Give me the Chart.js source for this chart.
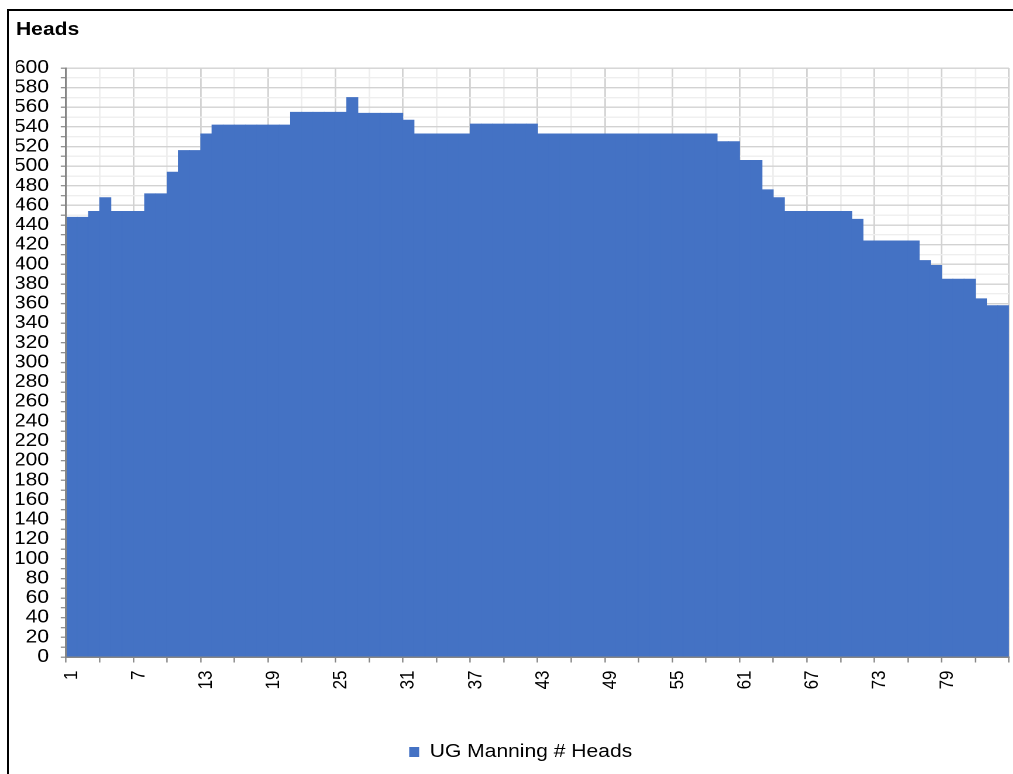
<!DOCTYPE html>
<html>
<head>
<meta charset="utf-8">
<title>UG Manning # Heads</title>
<script src="https://cdn.jsdelivr.net/npm/chart.js@4.4.1/dist/chart.umd.min.js"></script>
<style>
  html, body { margin: 0; padding: 0; background: #fff; overflow: hidden; }
  body { width: 1013px; height: 774px; position: relative; }
  /* outer frame of the chart object */
  #frame {
    position: absolute; left: 7px; top: 9px; width: 1100px; height: 800px;
    border-left: 2px solid #000; border-top: 2px solid #000; box-sizing: border-box;
  }
  /* the chart is laid out narrower and widened horizontally */
  #wrap {
    position: absolute; left: 0; top: 0; width: 866px; height: 774px;
    transform: scaleX(1.17); transform-origin: 0 0;
  }
</style>
</head>
<body>
<div id="frame"></div>
<div id="wrap"><canvas id="chart"></canvas></div>
<script>
// Period numbers along the x axis
const categories = [
  '1','2','3','4','5','6','7','8','9','10','11','12','13','14','15','16','17','18','19','20','21',
  '22','23','24','25','26','27','28','29','30','31','32','33','34','35','36','37','38','39','40','41','42',
  '43','44','45','46','47','48','49','50','51','52','53','54','55','56','57','58','59','60','61','62','63',
  '64','65','66','67','68','69','70','71','72','73','74','75','76','77','78','79','80','81','82','83','84'
];

// Underground manning, number of heads per period
const headcount = [
  448, 448, 454, 468, 454, 454, 454, 472, 472, 494, 516, 516, 533, 542,
  542, 542, 542, 542, 542, 542, 555, 555, 555, 555, 555, 570, 554, 554,
  554, 554, 547, 533, 533, 533, 533, 533, 543, 543, 543, 543, 543, 543,
  533, 533, 533, 533, 533, 533, 533, 533, 533, 533, 533, 533, 533, 533,
  533, 533, 525, 525, 506, 506, 476, 468, 454, 454, 454, 454, 454, 454,
  446, 424, 424, 424, 424, 424, 404, 399, 385, 385, 385, 365, 358, 358
];

const seriesName = 'UG Manning # Heads';
const chartTitle = 'Heads';

// Value axis range and label interval
const yMin = 0;
const yMax = 600;
const yMinorStep = 10;
const yLabelStep = 20;

// Category label / tick intervals
const xLabelEvery = 6;
const xTickEvery = 3;

const FONT = "'Liberation Sans', Arial, Helvetica, sans-serif";
const BLUE = '#4472C4';
const GRID_MAJOR = '#D2D2D2';
const GRID_MINOR = '#EEEEEE';
const AXIS = '#868686';

// nudges the centred legend to the right a little
const legendShift = {
  id: 'legendShift',
  afterLayout(chart) {
    if (chart.legend) {
      chart.legend.left += 7;
      chart.legend.right += 7;
    }
  }
};

new Chart(document.getElementById('chart'), {
  type: 'bar',
  data: {
    labels: categories,
    datasets: [{
      label: seriesName,
      data: headcount,
      backgroundColor: BLUE,
      borderWidth: 0,
      categoryPercentage: 1.0,
      barPercentage: 1.0
    }]
  },
  plugins: [legendShift],
  options: {
    responsive: true,
    maintainAspectRatio: false,
    devicePixelRatio: 2,
    animation: false,
    layout: { padding: { left: 13.68, right: 3.61, top: 0, bottom: 3 } },
    plugins: {
      title: {
        display: true,
        text: chartTitle,
        align: 'start',
        color: '#000',
        font: { family: FONT, size: 18, weight: 'bold' },
        padding: { top: 19.2, bottom: 27.2 }
      },
      legend: {
        display: true,
        position: 'bottom',
        labels: {
          color: '#000',
          font: { family: FONT, size: 18 },
          boxWidth: 8.5,
          boxHeight: 10,
          padding: 10
        }
      },
      tooltip: { enabled: false }
    },
    scales: {
      x: {
        type: 'category',
        offset: true,
        grid: {
          offset: true,
          drawOnChartArea: true,
          lineWidth: 1.4,
          color: (ctx) => {
            if (ctx.index === undefined) return GRID_MAJOR;
            if (ctx.index % xLabelEvery === 0) return GRID_MAJOR;
            if (ctx.index % xTickEvery === 0) return GRID_MINOR;
            return 'rgba(0,0,0,0)';
          },
          tickColor: (ctx) => {
            if (ctx.index === undefined) return AXIS;
            return ctx.index % xTickEvery === 0 ? AXIS : 'rgba(0,0,0,0)';
          },
          tickLength: 5.5,
          tickWidth: 1.2
        },
        border: { display: true, color: AXIS, width: 1.5, z: 1 },
        ticks: {
          autoSkip: false,
          minRotation: 90,
          maxRotation: 90,
          padding: 8,
          color: '#000',
          font: { family: FONT, size: 17 },
          callback: (val, index) => (index % xLabelEvery === 0 ? categories[index] : '')
        },
        afterFit: (scale) => {
          scale.height = 76;
          scale.paddingLeft = 0;
          scale.paddingRight = 0;
        }
      },
      y: {
        min: yMin,
        max: yMax,
        grid: {
          color: (ctx) => (ctx.tick && ctx.tick.value % yLabelStep === 0 ? GRID_MAJOR : GRID_MINOR),
          lineWidth: 1.4,
          tickColor: AXIS,
          tickLength: 4.5,
          tickWidth: 1.2
        },
        border: { display: true, color: AXIS, width: 1.5, z: 1 },
        ticks: {
          stepSize: yMinorStep,
          autoSkip: false,
          padding: 10,
          color: '#000',
          font: { family: FONT, size: 18 },
          callback: (v) => (v % yLabelStep === 0 ? String(v) : '')
        },
        afterFit: (scale) => { scale.width = 42.73; }
      }
    }
  }
});
</script>
</body>
</html>
